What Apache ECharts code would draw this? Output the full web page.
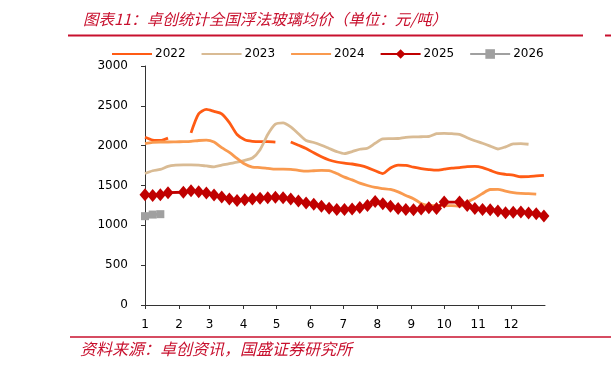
<!DOCTYPE html>
<html><head><meta charset="utf-8">
<script src="https://cdn.jsdelivr.net/npm/echarts@6/dist/echarts.min.js"></script>
<style>html,body{margin:0;padding:0;background:#fff}#c{width:611px;height:369px}</style>
</head><body><div id="c"></div>
<script>
// week numbers (1..53) within the year
const weeks = [1,2,3,4,5,6,7,8,9,10,11,12,13,14,15,16,17,18,19,20,21,22,23,24,25,26,27,28,29,30,31,32,33,34,35,36,37,38,39,40,41,42,43,44,45,46,47,48,49,50,51,52,53];
// first day-of-year of each month (tick positions) and their labels
const monthStartDays = [0,31,59,90,120,151,181,212,243,273,304,334];
const monthLabels = ['1','2','3','4','5','6','7','8','9','10','11','12'];
const yTicks = [0,500,1000,1500,2000,2500,3000];

const s2022 = [2105,2070,2065,2095,null,null,2160,2400,2455,2430,2400,2290,2140,2075,2055,2050,2050,2045,null,2045,2005,1965,1910,1860,1820,1795,1780,1770,1752,1725,1685,1650,1720,1755,1752,1730,1712,1700,1692,1705,1718,1725,1738,1740,1725,1690,1655,1640,1630,1610,1612,1620,1628];
const s2023 = [1650,1685,1702,1740,1755,1760,1760,1755,1745,1735,1755,1775,1792,1815,1845,1950,2140,2270,2287,2235,2150,2065,2040,2005,1965,1925,1900,1925,1955,1968,2030,2085,2088,2090,2105,2110,2112,2115,2150,2155,2150,2142,2100,2062,2030,1995,1958,1985,2022,2025,2018];
const s2024 = [2025,2040,2046,2046,2048,2050,2054,2065,2070,2045,1975,1915,1840,1770,1732,1725,1715,1705,1705,1703,1690,1680,1685,1690,1688,1650,1605,1570,1530,1500,1475,1462,1450,1420,1375,1335,1275,1250,1248,1246,1248,1240,1290,1340,1400,1450,1452,1430,1412,1402,1398,1393];
const s2025 = [1385,1375,1385,1410,null,1415,1435,1420,1405,1380,1355,1330,1312,1322,1330,1340,1345,1352,1345,1330,1305,1280,1265,1240,1215,1200,1200,1205,1225,1250,1300,1272,1240,1210,1198,1196,1205,1220,1210,1292,null,1292,1250,1210,1200,1196,1180,1158,1165,1167,1155,1146,1118];
const s2026 = [1115,1135,1140];

function pts(vals){ return vals.map((v,i)=>[(weeks[i]-1)*7, v]); }

const chart = echarts.init(document.getElementById('c'), null, {renderer:'canvas'});
const FONT = 'DejaVu Sans';
const red = '#C00000';
const hide = {opacity:0};
chart.setOption({
  animation:false,
  textStyle:{fontFamily:FONT},
  title:{
    text:'图表11：卓创统计全国浮法玻璃均价（单位：元/吨）',
    left:78, top:6,
    textStyle:{fontFamily:'Noto Sans CJK SC', fontSize:15.5, fontStyle:'italic', fontWeight:'normal', color:'#C8102E'}
  },
  graphic:[
    {type:'line', shape:{x1:68,y1:35.5,x2:583,y2:35.5}, style:{stroke:'#C8102E', lineWidth:2}},
    {type:'line', shape:{x1:605,y1:35.5,x2:611,y2:35.5}, style:{stroke:'#C8102E', lineWidth:2}},
    {type:'line', shape:{x1:70,y1:337,x2:611,y2:337}, style:{stroke:'#C8102E', lineWidth:1.5}},
    {type:'text', left:80, top:341, style:{text:'资料来源：卓创资讯，国盛证券研究所', fill:'#C8102E', font:'italic 16px "Noto Sans CJK SC"'}}
  ],
  legend:{
    top:48, left:111, padding:0, itemWidth:40, itemHeight:12, itemGap:15,
    textStyle:{fontFamily:FONT, fontSize:12, color:'#000', padding:[0,0,0,-2]},
    data:[{name:'2022', itemStyle:hide},{name:'2023', itemStyle:hide},{name:'2024', itemStyle:hide},'2025','2026']
  },
  grid:{left:145, top:66, width:400, height:239, containLabel:false},
  xAxis:{
    type:'value', min:0, max:365,
    axisLine:{lineStyle:{color:'#333', width:1}},
    axisTick:{show:true, length:4, inside:false, customValues:monthStartDays, lineStyle:{color:'#333'}},
    axisLabel:{customValues:monthStartDays, margin:14, fontSize:12, color:'#000', fontFamily:FONT,
      formatter:function(v){const i=monthStartDays.indexOf(v); return i>=0?monthLabels[i]:'';}},
    splitLine:{show:false}
  },
  yAxis:{
    type:'value', min:yTicks[0], max:yTicks[yTicks.length-1], interval:500,
    axisLine:{show:true, lineStyle:{color:'#333', width:1}},
    axisTick:{show:true, length:4, lineStyle:{color:'#333'}},
    axisLabel:{margin:17, fontSize:12, color:'#000', fontFamily:FONT, formatter:function(v){return String(v);}},
    splitLine:{show:false}
  },
  series:[
    {name:'2022', type:'line', data:pts(s2022), symbol:'none', smooth:0.25, connectNulls:false,
     lineStyle:{color:'#FF5B14', width:2.8}, itemStyle:{color:'#FF5B14'}},
    {name:'2023', type:'line', data:pts(s2023), symbol:'none', smooth:0.25,
     lineStyle:{color:'#D9BB94', width:2.8}, itemStyle:{color:'#D9BB94'}},
    {name:'2024', type:'line', data:pts(s2024), symbol:'none', smooth:0.25,
     lineStyle:{color:'#F99A4F', width:2.8}, itemStyle:{color:'#F99A4F'}},
    {name:'2025', type:'line', data:pts(s2025), symbol:'diamond', symbolSize:[11,13], connectNulls:true,
     lineStyle:{color:red, width:2.8}, itemStyle:{color:red}},
    {name:'2026', type:'line', data:pts(s2026), symbol:'rect', symbolSize:8,
     lineStyle:{color:'#A0A0A0', width:2.8}, itemStyle:{color:'#A0A0A0'}}
  ]
});
</script></body></html>
